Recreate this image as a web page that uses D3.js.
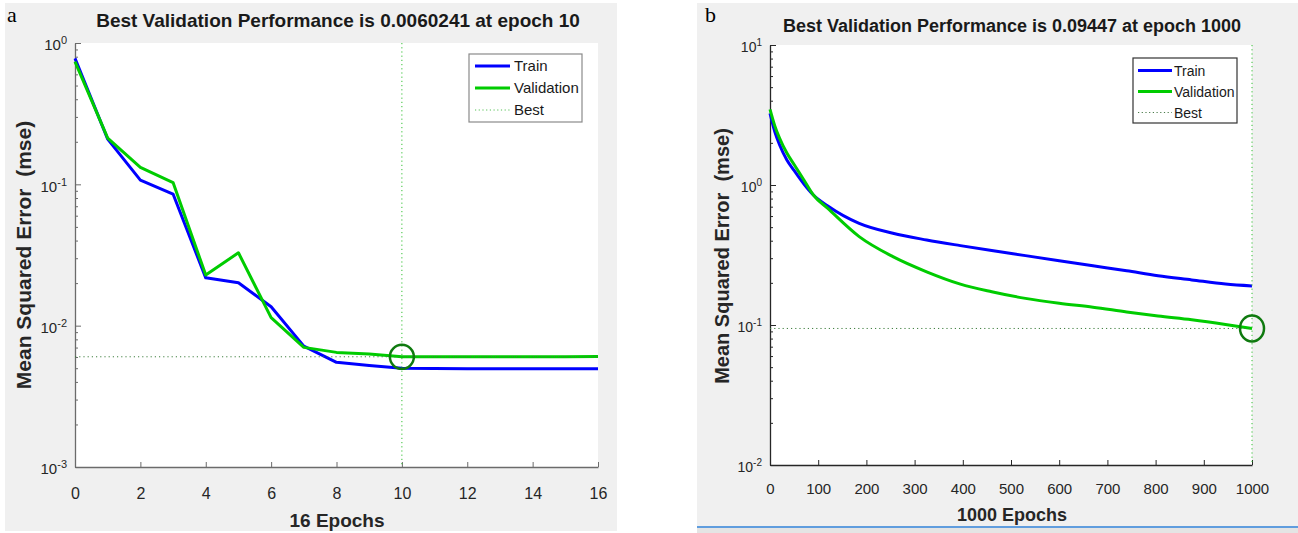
<!DOCTYPE html>
<html>
<head>
<meta charset="utf-8">
<script src="https://cdn.jsdelivr.net/npm/d3@7"></script>
<style>
  body { margin: 0; background: #fff; }
  svg { display: block; font-family: "Liberation Sans", Arial, Helvetica, sans-serif; }
</style>
</head>
<body>
<div id="chart"></div>
<script>
// panel a : 16 epochs
const epochsA = [0, 1, 2, 3, 4, 5, 6, 7, 8, 9, 10, 11, 12, 13, 14, 15, 16];
const trainA = [0.779, 0.209, 0.107, 0.0854, 0.0218, 0.0201, 0.0136, 0.00717, 0.0055, 0.00523, 0.00499, 0.00497, 0.00496, 0.00496, 0.00495, 0.00495, 0.00495];
const validA = [0.738, 0.212, 0.132, 0.103, 0.0228, 0.0328, 0.0114, 0.00702, 0.00647, 0.0063, 0.0060241, 0.00602, 0.00602, 0.00603, 0.00603, 0.00603, 0.00604];
const bestA = { epoch: 10, value: 0.0060241 };
const xTicksA = [0, 2, 4, 6, 8, 10, 12, 14, 16];
const yTicksA = [1e-3, 1e-2, 1e-1, 1];

// panel b : 1000 epochs
const epochsB = [0, 10, 20, 35, 50, 70, 90, 120, 185, 255, 325, 395, 460, 530, 600, 670, 740, 805, 875, 945, 1000];
const trainB = [3.25, 2.40, 1.93, 1.51, 1.27, 1.02, 0.848, 0.708, 0.532, 0.452, 0.405, 0.369, 0.34, 0.313, 0.288, 0.265, 0.244, 0.225, 0.21, 0.196, 0.19];
const validB = [3.47, 2.64, 2.15, 1.69, 1.40, 1.09, 0.848, 0.68, 0.428, 0.308, 0.24, 0.196, 0.173, 0.155, 0.143, 0.134, 0.124, 0.116, 0.109, 0.101, 0.09447];
const bestB = { epoch: 1000, value: 0.09447 };
const xTicksB = [0, 100, 200, 300, 400, 500, 600, 700, 800, 900, 1000];
const yTicksB = [1e-2, 1e-1, 1, 10];

const legendNames = ["Train", "Validation", "Best"];

const W = 1298, H = 533;
const svg = d3.select("#chart").append("svg").attr("width", W).attr("height", H);

// grey figure backgrounds
svg.append("rect").attr("x", 5).attr("y", 3).attr("width", 612).attr("height", 528).attr("fill", "#f0f0f0");
svg.append("rect").attr("x", 697).attr("y", 3).attr("width", 601).attr("height", 523).attr("fill", "#f0f0f0");
svg.append("line").attr("x1", 697).attr("x2", 1298).attr("y1", 527).attr("y2", 527)
  .attr("stroke", "#2b7cd3").attr("stroke-width", 1.5);
svg.append("rect").attr("x", 697).attr("y", 528).attr("width", 601).attr("height", 5).attr("fill", "#e4e4e4");

function drawPanel(p) {
  const g = svg.append("g");
  const x = d3.scaleLinear().domain(p.xDomain).range([p.left, p.right]);
  const y = d3.scaleLog().domain(p.yDomain).range([p.bottom, p.top]);

  g.append("rect").attr("x", p.left).attr("y", p.top)
    .attr("width", p.right - p.left).attr("height", p.bottom - p.top).attr("fill", "#fff");

  // minor log ticks
  const minor = [];
  const [y0, y1] = p.yDomain;
  for (let e = Math.log10(y0); e < Math.log10(y1); e++) {
    for (let k = 2; k <= 9; k++) minor.push(k * Math.pow(10, e));
  }
  g.append("g").attr("transform", `translate(${p.left},0)`)
    .call(d3.axisLeft(y).tickValues(minor).tickSize(-3).tickFormat(""))
    .call(a => a.select(".domain").remove())
    .selectAll("line").attr("stroke", p.axisColor);

  // y axis
  const yAxis = g.append("g").attr("transform", `translate(${p.left},0)`)
    .call(d3.axisLeft(y).tickValues(p.yTicks).tickSize(-6).tickSizeOuter(0).tickPadding(8).tickFormat(""));
  yAxis.select(".domain").attr("stroke", p.axisColor).attr("stroke-width", 1.3);
  yAxis.selectAll("line").attr("stroke", p.axisColor);
  yAxis.selectAll(".tick text").each(function (d) {
    const t = d3.select(this).attr("fill", "#262626").style("font-size", p.tickFont + "px").attr("dy", "0.45em");
    t.text(null);
    t.append("tspan").text("10");
    t.append("tspan").attr("dy", "-0.55em").style("font-size", (p.tickFont - 4) + "px").text(Math.round(Math.log10(d)));
  });

  // x axis
  const xAxis = g.append("g").attr("transform", `translate(0,${p.bottom})`)
    .call(d3.axisBottom(x).tickValues(p.xTicks).tickSize(-5).tickSizeOuter(0).tickPadding(p.xPad).tickFormat(d3.format("d")));
  xAxis.select(".domain").attr("stroke", p.axisColor).attr("stroke-width", 1.3);
  xAxis.selectAll("line").attr("stroke", p.axisColor);
  xAxis.selectAll("text").attr("fill", "#262626").style("font-size", p.xTickFont + "px");

  // series
  const line = d3.line().x(d => x(d[0])).y(d => y(d[1])).curve(p.curve);
  g.append("path").datum(p.epochs.map((e, i) => [e, p.train[i]]))
    .attr("d", line).attr("fill", "none").attr("stroke", "#0000ff").attr("stroke-width", 3).attr("stroke-linejoin", "round");
  g.append("path").datum(p.epochs.map((e, i) => [e, p.valid[i]]))
    .attr("d", line).attr("fill", "none").attr("stroke", "#00cc00").attr("stroke-width", 3).attr("stroke-linejoin", "round");

  // best markers
  g.append("line").attr("x1", p.left).attr("x2", p.right)
    .attr("y1", y(p.best.value)).attr("y2", y(p.best.value))
    .attr("stroke", "#3f7f3f").attr("stroke-width", 1).attr("stroke-dasharray", "1.2,3");
  g.append("line").attr("x1", x(p.best.epoch)).attr("x2", x(p.best.epoch))
    .attr("y1", p.top).attr("y2", p.bottom)
    .attr("stroke", "#33c033").attr("stroke-width", 1).attr("stroke-dasharray", "1.2,3");
  g.append("ellipse").attr("cx", x(p.best.epoch)).attr("cy", y(p.best.value))
    .attr("rx", 12).attr("ry", p.ry).attr("fill", "none").attr("stroke", "#0f7a0f").attr("stroke-width", 2.5);

  // title, labels
  g.append("text").attr("x", p.titleX).attr("y", p.titleY).attr("text-anchor", "middle")
    .attr("font-weight", "bold").style("font-size", p.titleFont + "px").attr("fill", "#1a1a1a").text(p.title);
  g.append("text").attr("x", p.xLabelX).attr("y", p.xLabelY).attr("text-anchor", "middle")
    .attr("font-weight", "bold").style("font-size", p.xLabelFont + "px").attr("fill", "#262626").text(p.xLabel);
  g.append("text").attr("transform", `translate(${p.yLabelX},${p.yLabelY}) rotate(-90)`)
    .attr("text-anchor", "middle").attr("font-weight", "bold").style("white-space", "pre")
    .style("font-size", p.labelFont + "px").attr("fill", "#262626").text("Mean Squared Error  (mse)");
  g.append("text").attr("x", p.letterX).attr("y", 22)
    .style("font-family", "'Liberation Serif', 'Times New Roman', serif").style("font-size", "22px")
    .attr("fill", "#000").text(p.letter);

  // legend
  const L = p.legend;
  g.append("rect").attr("x", L.x).attr("y", L.y).attr("width", L.w).attr("height", L.h)
    .attr("fill", "#fff").attr("stroke", L.stroke).attr("stroke-width", 1.2);
  const styles = [
    { c: "#0000ff", w: 3, dash: null },
    { c: "#00cc00", w: 3, dash: null },
    { c: p.legendBest, w: 1, dash: "1.2,2.5" }
  ];
  legendNames.forEach((name, i) => {
    const yy = L.y + L.first + i * L.step;
    g.append("line").attr("x1", L.x + L.lx0).attr("x2", L.x + L.lx1).attr("y1", yy).attr("y2", yy)
      .attr("stroke", styles[i].c).attr("stroke-width", styles[i].w).attr("stroke-dasharray", styles[i].dash);
    g.append("text").attr("x", L.x + L.tx).attr("y", yy).attr("dy", "0.36em")
      .style("font-size", L.font + "px").attr("fill", "#1a1a1a").text(name);
  });
}

drawPanel({
  left: 75, right: 598, top: 43, bottom: 467,
  xDomain: [0, 16], yDomain: [1e-3, 1],
  xTicks: xTicksA, yTicks: yTicksA,
  epochs: epochsA, train: trainA, valid: validA, best: bestA,
  curve: d3.curveLinear, ry: 12,
  axisColor: "#6b6b6b", tickFont: 15, xTickFont: 16, xPad: 21,
  title: "Best Validation Performance is 0.0060241 at epoch 10", titleX: 338, titleY: 27, titleFont: 19,
  xLabel: "16 Epochs", xLabelX: 337, xLabelY: 527, xLabelFont: 19, labelFont: 21,
  yLabelX: 31, yLabelY: 255,
  letter: "a", letterX: 7,
  legendBest: "#55c055",
  legend: { x: 469, y: 54, w: 113, h: 68, first: 12, step: 22, lx0: 6, lx1: 41, tx: 45, font: 15, stroke: "#8a8a8a" }
});

drawPanel({
  left: 770, right: 1252, top: 45, bottom: 465,
  xDomain: [0, 1000], yDomain: [1e-2, 10],
  xTicks: xTicksB, yTicks: yTicksB,
  epochs: epochsB, train: trainB, valid: validB, best: bestB,
  curve: d3.curveMonotoneX, ry: 13,
  axisColor: "#262626", tickFont: 14, xTickFont: 15, xPad: 18,
  title: "Best Validation Performance is 0.09447 at epoch 1000", titleX: 1012, titleY: 32, titleFont: 18,
  xLabel: "1000 Epochs", xLabelX: 1012, xLabelY: 521, xLabelFont: 18, labelFont: 20,
  yLabelX: 729, yLabelY: 256,
  letter: "b", letterX: 705,
  legendBest: "#4a7a4a",
  legend: { x: 1133, y: 58, w: 104, h: 65, first: 12.5, step: 21, lx0: 5, lx1: 39, tx: 41, font: 14, stroke: "#333" }
});
</script>
</body>
</html>
